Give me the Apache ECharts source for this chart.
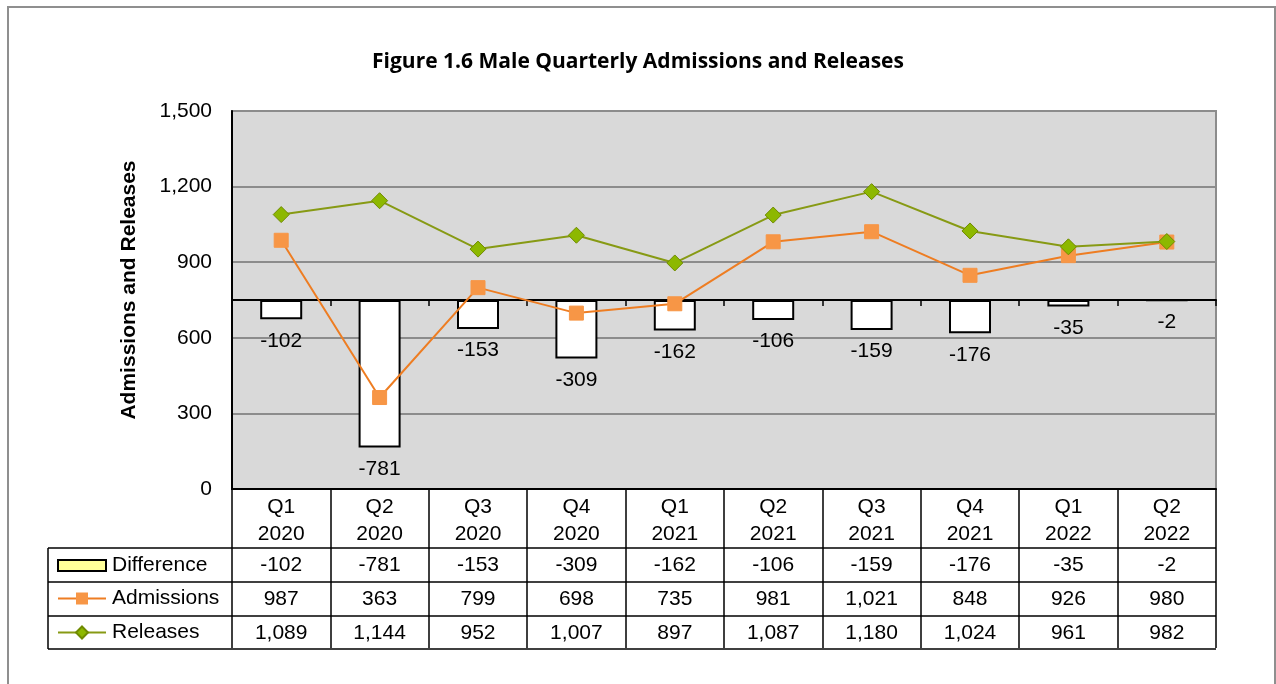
<!DOCTYPE html>
<html>
<head>
  <meta charset="utf-8" />
  <title>Male Quarterly Admissions and Releases</title>
  <script src="https://cdn.jsdelivr.net/npm/echarts@6/dist/echarts.min.js"></script>
  <style>
    html, body { margin: 0; padding: 0; background: #fff; }
    #chart-main { width: 1276px; height: 684px; }
  </style>
</head>
<body>
<div id="chart-main"></div>
<script type="text/javascript">
var quarters    = ['Q1', 'Q2', 'Q3', 'Q4', 'Q1', 'Q2', 'Q3', 'Q4', 'Q1', 'Q2'];
var years       = ['2020', '2020', '2020', '2020', '2021', '2021', '2021', '2021', '2022', '2022'];
var difference  = [-102, -781, -153, -309, -162, -106, -159, -176, -35, -2];
var admissions  = [987, 363, 799, 698, 735, 981, 1021, 848, 926, 980];
var releases    = [1089, 1144, 952, 1007, 897, 1087, 1180, 1024, 961, 982];
var yTicks      = { min: 0, max: 1500, interval: 300 };

var font = "'Liberation Sans', Arial, sans-serif";
function fmt(v) { return Number(v).toLocaleString('en-US'); }

var categories = quarters.map(function (q, i) { return q + '\n' + years[i]; });

// table frame: grid is left 232, right 1216, bottom 489
var L = 48, X0 = 232, X1 = 1216;
var rows = [548, 582, 616, 649];
var frame = rows.map(function (y) {
  return { type: 'line', shape: { x1: L, y1: y, x2: X1, y2: y }, style: { stroke: '#000', lineWidth: 1.5 }, z: 10 };
});
frame.push({ type: 'line', shape: { x1: L, y1: rows[0], x2: L, y2: rows[3] }, style: { stroke: '#000', lineWidth: 1.5 }, z: 10 });
frame.push({ type: 'rect', shape: { x: 8, y: 7, width: 1267, height: 700 }, style: { fill: 'none', stroke: '#8f8f8f', lineWidth: 2 }, z: 0 });

var legendBase = { orient: 'horizontal', left: 57, padding: 0, itemWidth: 48, itemGap: 6,
  textStyle: { fontFamily: font, fontSize: 21, color: '#000', padding: [0, 0, 0, 1] } };

var myChart = echarts.init(document.getElementById('chart-main'));
var option = {
  animation: false,
  backgroundColor: '#fff',
  title: {
    text: 'Figure 1.6 Male Quarterly Admissions and Releases',
    left: 'center', top: 47,
    textStyle: { fontFamily: "'Open Sans', sans-serif", fontWeight: 'bold', fontSize: 21, color: '#000' }
  },
  graphic: frame,
  legend: [
    Object.assign({}, legendBase, { top: 555, itemHeight: 11, data: [{ name: 'Difference', icon: 'rect', itemStyle: { color: '#ffff99', borderColor: '#000', borderWidth: 2 } }] }),
    Object.assign({}, legendBase, { top: 588, itemHeight: 15, data: ['Admissions'] }),
    Object.assign({}, legendBase, { top: 622, itemHeight: 15, data: ['Releases'] })
  ],
  grid: { left: X0, right: 1276 - X1, top: 111, bottom: 684 - 489, show: true,
    backgroundColor: '#d9d9d9', borderColor: '#8c8c8c', borderWidth: 2 },
  xAxis: [{
    type: 'category', data: categories, position: 'bottom',
    axisLine: { onZero: false, lineStyle: { color: '#000', width: 2 } },
    axisTick: { show: true, length: 159, lineStyle: { color: '#000', width: 1.5 } },
    axisLabel: {
      interval: 0, margin: 5, fontFamily: font, color: '#000',
      formatter: function (v, i) {
        var p = v.split('\n');
        return '{c|' + p[0] + '}\n{c|' + p[1] + '}\n{v|' + fmt(difference[i]) + '}\n{v|' + fmt(admissions[i]) + '}\n{v|' + fmt(releases[i]) + '}';
      },
      rich: {
        c: { fontFamily: font, fontSize: 21, lineHeight: 27, color: '#000' },
        v: { fontFamily: font, fontSize: 21, lineHeight: 34, color: '#000' }
      }
    }
  }, {
    type: 'category', data: categories, position: 'top',
    axisLine: { onZero: true, onZeroAxisIndex: 1, lineStyle: { color: '#000', width: 2 } },
    axisTick: { show: true, inside: true, length: 6, lineStyle: { color: '#000', width: 1.5 } },
    axisLabel: { show: false }
  }],
  yAxis: [{
    type: 'value', min: yTicks.min, max: yTicks.max, interval: yTicks.interval,
    name: 'Admissions and Releases', nameLocation: 'middle', nameGap: 92, nameRotate: 90,
    nameTextStyle: { fontFamily: font, fontWeight: 'bold', fontSize: 21, color: '#000', padding: [0, 0, 0, 20] },
    axisLine: { show: true, lineStyle: { color: '#000', width: 2 } },
    axisTick: { show: false },
    axisLabel: { margin: 20, fontFamily: font, fontSize: 21, color: '#000', formatter: fmt },
    splitLine: { lineStyle: { color: '#8c8c8c', width: 2 } }
  }, {
    type: 'value', min: -1000, max: 1000, show: false, splitLine: { show: false }
  }],
  series: [{
    name: 'Difference', type: 'bar', xAxisIndex: 1, yAxisIndex: 1, data: difference,
    barWidth: 42,
    itemStyle: { color: '#fff', borderColor: '#000', borderWidth: 2 },
    label: { show: true, position: 'bottom', distance: 11, fontFamily: font, fontSize: 21, color: '#000' }
  }, {
    name: 'Admissions', type: 'line', data: admissions,
    symbol: 'rect', symbolSize: 14,
    lineStyle: { color: '#ee7d22', width: 2 },
    itemStyle: { color: '#f79646', borderColor: '#f79646' }
  }, {
    name: 'Releases', type: 'line', data: releases,
    symbol: 'diamond', symbolSize: 16,
    lineStyle: { color: '#879a14', width: 2 },
    itemStyle: { color: '#8db800', borderColor: '#6f8a00', borderWidth: 1 }
  }]
};
myChart.setOption(option);
</script>
</body>
</html>
